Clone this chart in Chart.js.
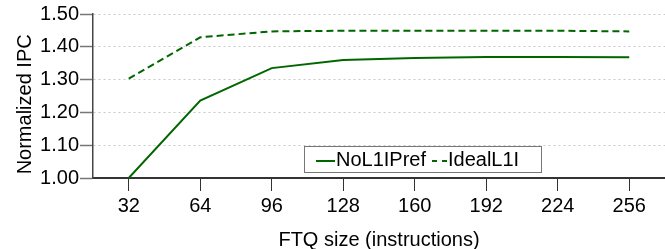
<!DOCTYPE html>
<html lang="en">

<head>
  <meta charset="UTF-8" />
  <title>FTQ size vs Normalized IPC</title>
  <script src="https://cdn.jsdelivr.net/npm/chart.js"></script>
  <style>
    html, body { margin: 0; padding: 0; background: #fff; }
    #wrap { width: 665px; height: 249px; }
  </style>
</head>

<body>
  <div id="wrap">
    <canvas id="ipcChart" width="665" height="249"></canvas>
  </div>

  <script>
    // values
    const ftqSizes = ['32', '64', '96', '128', '160', '192', '224', '256'];
    const noL1IPref = [1.000, 1.236, 1.335, 1.360, 1.366, 1.369, 1.369, 1.368];
    const idealL1I = [1.303, 1.429, 1.447, 1.449, 1.449, 1.449, 1.449, 1.447];

    const FONT = '"Liberation Sans", Arial, sans-serif';
    const GREEN = '#006600';

    // legend in a box inside the plot, like the original figure
    const boxLegend = {
      id: 'boxLegend',
      afterDraw(chart) {
        const ctx = chart.ctx;
        const ds = chart.data.datasets;
        ctx.save();
        ctx.strokeStyle = '#777';
        ctx.lineWidth = 1;
        ctx.fillStyle = '#fff';
        ctx.fillRect(304.5, 146.5, 237, 26);
        ctx.strokeRect(304.5, 146.5, 237, 26);

        ctx.font = '20px ' + FONT;
        ctx.textBaseline = 'alphabetic';
        ctx.fillStyle = '#000';

        // solid sample
        ctx.strokeStyle = ds[0].borderColor;
        ctx.lineWidth = 2;
        ctx.beginPath();
        ctx.moveTo(316, 161);
        ctx.lineTo(335, 161);
        ctx.stroke();
        ctx.fillText(ds[0].label, 336, 166);

        // dashed sample
        ctx.strokeStyle = ds[1].borderColor;
        ctx.setLineDash([5, 5]);
        ctx.beginPath();
        ctx.moveTo(432, 161);
        ctx.lineTo(447, 161);
        ctx.stroke();
        ctx.setLineDash([]);
        ctx.fillText(ds[1].label, 448, 166);
        ctx.restore();
      }
    };

    const ctx = document.getElementById('ipcChart').getContext('2d');
    const chart = new Chart(ctx, {
      type: 'line',
      data: {
        labels: ftqSizes,
        datasets: [{
          label: 'NoL1IPref',
          data: noL1IPref,
          borderColor: GREEN,
          borderWidth: 2,
          pointRadius: 0,
          tension: 0,
          fill: false
        }, {
          label: 'IdealL1I',
          data: idealL1I,
          borderColor: GREEN,
          borderWidth: 2,
          borderDash: [7, 4],
          pointRadius: 0,
          tension: 0,
          fill: false
        }]
      },
      options: {
        responsive: false,
        animation: false,
        layout: { padding: { top: 14, left: 0, right: 0, bottom: 0 } },
        plugins: {
          legend: { display: false },
          tooltip: { enabled: false }
        },
        scales: {
          x: {
            type: 'category',
            offset: true,
            afterFit: s => { s.height = 71; },
            grid: {
              drawOnChartArea: false,
              drawTicks: true,
              tickLength: 13,
              tickColor: '#333',
              tickWidth: 1,
              offset: false
            },
            border: { display: true, color: '#333', width: 2 },
            ticks: {
              color: '#000',
              font: { family: FONT, size: 20 },
              padding: 3,
              maxRotation: 0
            },
            title: {
              display: true,
              text: 'FTQ size (instructions)',
              color: '#000',
              font: { family: FONT, size: 20, lineHeight: 0.9 },
              padding: 0
            }
          },
          y: {
            min: 1.0,
            max: 1.5,
            afterFit: s => { s.width = 93; },
            grid: {
              color: '#c8c8c8',
              lineWidth: 1,
              tickLength: 13,
              tickColor: '#777',
              tickWidth: 1.5
            },
            border: { display: true, color: '#444', width: 1.5, dash: [2, 3] },
            ticks: {
              stepSize: 0.1,
              color: '#000',
              font: { family: FONT, size: 20 },
              padding: 1,
              callback: v => Number(v).toFixed(2)
            },
            title: {
              display: true,
              text: 'Normalized IPC   ',
              color: '#000',
              font: { family: FONT, size: 20 },
              padding: { top: 13, bottom: 0 }
            }
          }
        }
      },
      plugins: [boxLegend]
    });
  </script>
</body>

</html>
